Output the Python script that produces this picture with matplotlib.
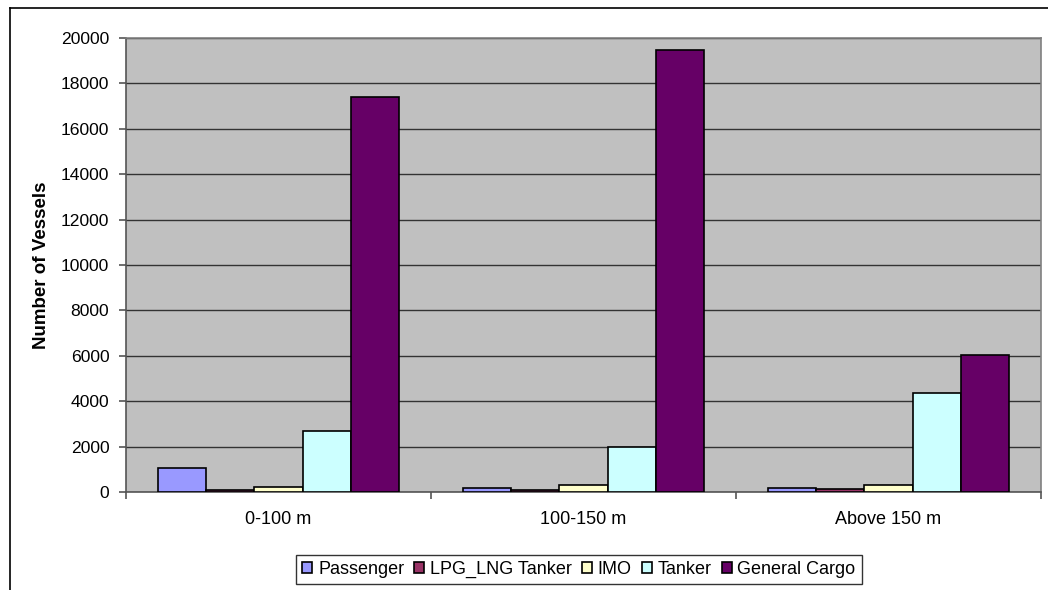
import numpy as np
import matplotlib
matplotlib.use('Agg')
import matplotlib.pyplot as plt
from matplotlib.lines import Line2D

plt.rcParams['font.family'] = ['Liberation Sans', 'DejaVu Sans']

# data
categories = ['0-100 m', '100-150 m', 'Above 150 m']
series_names = ['Passenger', 'LPG_LNG Tanker', 'IMO', 'Tanker', 'General Cargo']
passenger = [1050, 160, 190]
lpg_lng = [90, 70, 120]
imo = [230, 290, 320]
tanker = [2690, 1990, 4380]
general_cargo = [17400, 19480, 6040]
yticks = list(range(0, 20001, 2000))

colors = ['#9999FF', '#993366', '#FFFFCC', '#CCFFFF', '#660066']
values = [passenger, lpg_lng, imo, tanker, general_cargo]

W, H = 1048, 590
fig = plt.figure(figsize=(W/100, H/100), dpi=100)
# plot area in pixels: left 126, right 1041, top 38, bottom 492
ax = fig.add_axes([126/W, 1-492/H, (1041-126)/W, (492-38)/H])
ax.set_facecolor('#C0C0C0')

x = np.arange(len(categories))
bw = 0.158
for i in range(len(series_names)):
    off = (i - 2) * bw
    ax.bar(x + off, values[i], width=bw, color=colors[i], edgecolor='black',
           linewidth=1.2, label=series_names[i], zorder=3)

ax.set_xlim(-0.5, 2.5)
ax.set_ylim(0, 20000)
ax.set_yticks(yticks)
ax.set_yticklabels([str(t) for t in yticks], fontsize=12.6)
ax.yaxis.grid(True, color='#333333', linewidth=1.0, zorder=0)
ax.set_axisbelow(True)

ax.set_xticks(x)
ax.set_xticklabels(categories, fontsize=13)
ax.tick_params(axis='x', which='major', length=0, pad=14)
ax.set_xticks([-0.5, 0.5, 1.5, 2.5], minor=True)
ax.tick_params(axis='x', which='minor', length=5, color='#555555', width=1.2)
ax.tick_params(axis='y', length=5, color='#555555', width=1.2, pad=7)

for s in ['top', 'right']:
    ax.spines[s].set_color('#808080')
    ax.spines[s].set_linewidth(1.2)
for s in ['left', 'bottom']:
    ax.spines[s].set_color('#555555')
    ax.spines[s].set_linewidth(1.2)

ax.set_ylabel('Number of Vessels', fontsize=13.5, fontweight='bold')
ax.yaxis.set_label_coords((50-126)/(1041-126), 0.5)

# outer chart frame (only left and top visible)
fig.add_artist(Line2D([9.5/W, 9.5/W], [0, 1-7.5/H], color='black', linewidth=1.2))
fig.add_artist(Line2D([9.5/W, 1], [1-7.5/H, 1-7.5/H], color='black', linewidth=1.2))

leg = fig.legend(loc='center left', bbox_to_anchor=(296/W, 1-569.5/H), ncol=5,
                 fontsize=13, frameon=True, fancybox=False, edgecolor='black',
                 handlelength=0.55, handleheight=0.55, handletextpad=0.33,
                 columnspacing=0.55, borderpad=0.35, borderaxespad=0)
leg.get_frame().set_linewidth(1.0)

fig.savefig('out.png', dpi=100)
